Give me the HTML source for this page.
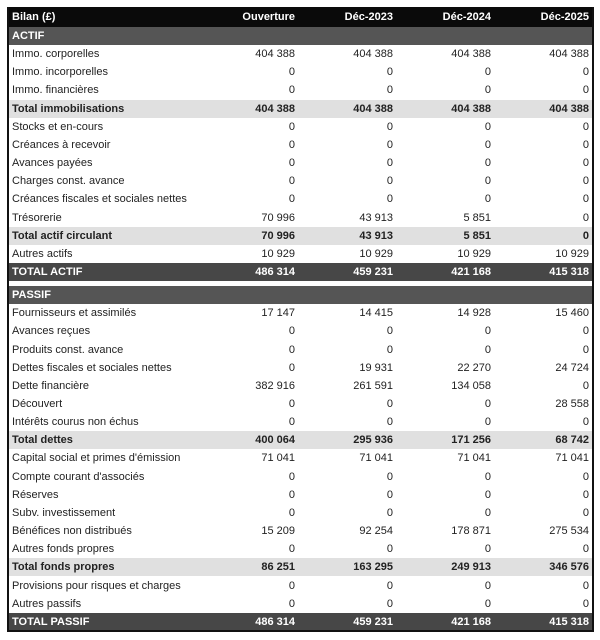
<!DOCTYPE html><html><head><style>
body{margin:0;background:#fff;font-family:"Liberation Sans",sans-serif;font-size:11px;color:#222}
#t{position:absolute;left:7px;top:7px;width:587px;height:625px;border:2px solid #111;border-top:0;box-sizing:border-box}
.r{position:absolute;left:9px;width:583px;height:18.15px;line-height:18px}
.r span{position:absolute;text-align:right;width:95px}
.r span.l{left:3px;text-align:left;width:300px}
.c1{left:191px}.c2{left:289px}.c3{left:387px}.c4{left:485px}
.h{background:#0a0a0a;color:#fff;font-weight:bold}
.s{background:#555;color:#fff;font-weight:bold}
.g{background:#e0e0e0;font-weight:bold}
.d{background:#474747;color:#fff;font-weight:bold}
</style></head><body>
<div id="rows"></div>
<div id="t"></div>
<script>
const R=[["h","Bilan (£)","Ouverture","Déc-2023","Déc-2024","Déc-2025"],
["s","ACTIF"],
["","Immo. corporelles","404 388","404 388","404 388","404 388"],
["","Immo. incorporelles","0","0","0","0"],
["","Immo. financières","0","0","0","0"],
["g","Total immobilisations","404 388","404 388","404 388","404 388"],
["","Stocks et en-cours","0","0","0","0"],
["","Créances à recevoir","0","0","0","0"],
["","Avances payées","0","0","0","0"],
["","Charges const. avance","0","0","0","0"],
["","Créances fiscales et sociales nettes","0","0","0","0"],
["","Trésorerie","70 996","43 913","5 851","0"],
["g","Total actif circulant","70 996","43 913","5 851","0"],
["","Autres actifs","10 929","10 929","10 929","10 929"],
["d","TOTAL ACTIF","486 314","459 231","421 168","415 318"],
["s","PASSIF"],
["","Fournisseurs et assimilés","17 147","14 415","14 928","15 460"],
["","Avances reçues","0","0","0","0"],
["","Produits const. avance","0","0","0","0"],
["","Dettes fiscales et sociales nettes","0","19 931","22 270","24 724"],
["","Dette financière","382 916","261 591","134 058","0"],
["","Découvert","0","0","0","28 558"],
["","Intérêts courus non échus","0","0","0","0"],
["g","Total dettes","400 064","295 936","171 256","68 742"],
["","Capital social et primes d'émission","71 041","71 041","71 041","71 041"],
["","Compte courant d'associés","0","0","0","0"],
["","Réserves","0","0","0","0"],
["","Subv. investissement","0","0","0","0"],
["","Bénéfices non distribués","15 209","92 254","178 871","275 534"],
["","Autres fonds propres","0","0","0","0"],
["g","Total fonds propres","86 251","163 295","249 913","346 576"],
["","Provisions pour risques et charges","0","0","0","0"],
["","Autres passifs","0","0","0","0"],
["d","TOTAL PASSIF","486 314","459 231","421 168","415 318"]];
let h="",y=8;
R.forEach((r,i)=>{
 if(i==0){h+=`<div class="r h" style="left:7px;width:587px;top:7px;height:20px;line-height:20px"><span class="l" style="left:5px">${r[1]}</span>`;
   for(let k=2;k<r.length;k++)h+=`<span class="c${k-1}" style="margin-left:2px">${r[k]}</span>`;
   h+="</div>"; y=27; return;}
 if(r[1]=="PASSIF")y+=5;
 h+=`<div class="r ${r[0]}" style="top:${y.toFixed(1)}px"><span class="l">${r[1]}</span>`;
 for(let k=2;k<r.length;k++)h+=`<span class="c${k-1}">${r[k]}</span>`;
 h+="</div>";
 y+=18.15;
});
document.getElementById("rows").innerHTML=h;
</script></body></html>
